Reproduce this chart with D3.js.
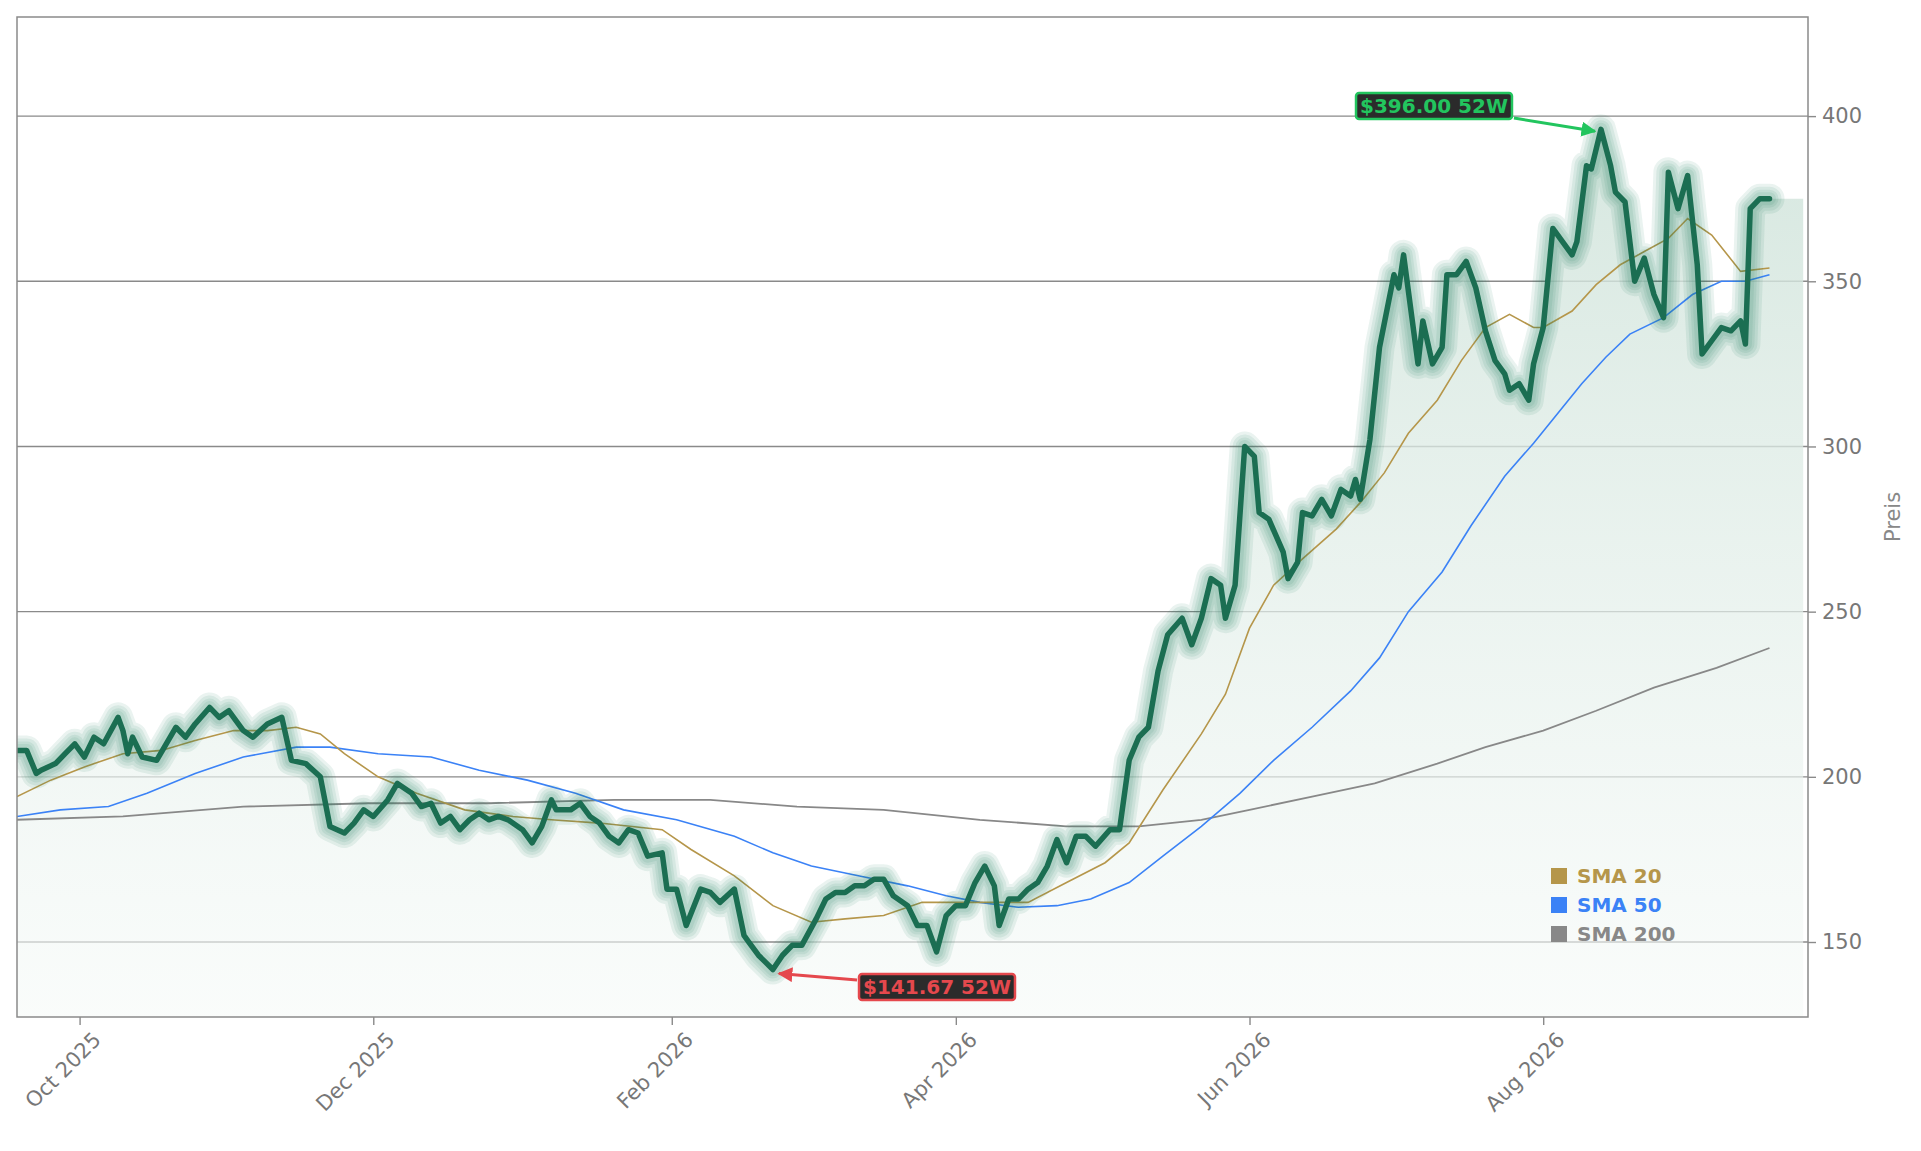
<!DOCTYPE html>
<html><head><meta charset="utf-8">
<script src="https://cdn.jsdelivr.net/npm/d3@7"></script>
<style>body{margin:0;background:#fff;font-family:"DejaVu Sans",sans-serif;}</style>
</head><body><svg id="c" width="1921" height="1151"></svg>
<script>
const startDate = "2025-09-18";
const closeDays = [0,2,4,5,8,10,12,14,16,18,21,22,23,24,26,29,31,33,35,37,40,42,44,47,49,52,55,57,60,63,65,68,70,72,74,77,79,82,84,86,88,90,92,94,96,98,100,102,105,107,109,111,112,115,117,119,121,123,125,127,129,131,134,135,137,139,142,144,146,149,151,152,154,157,159,161,163,166,168,170,172,174,176,178,180,182,185,187,189,191,193,195,197,199,201,203,204,206,208,210,212,214,216,218,220,222,224,227,229,231,233,235,237,239,242,244,246,248,250,251,253,255,257,258,260,263,264,266,267,269,271,273,275,277,278,279,281,283,286,287,288,291,292,294,296,297,299,301,303,305,307,309,310,312,314,315,317,319,321,323,324,326,327,329,331,332,334,336,338,340,342,343,345,347,349,350,352,354,356,358,359,360,362,364];
const closeVals = [208,208,201,202,204,207,210,206,212,210,218,214,207,212,206,205,210,215,212,216,221,218,220,214,212,216,218,205,204,200,185,183,186,190,188,193,198,195,191,192,186,188,184,187,189,187,188,187,184,180,185,193,190,190,192,188,186,182,180,184,183,176,177,166,166,155,166,165,162,166,152,150,146,141.67,146,149,149,157,163,165,165,167,167,169,169,164,161,155,155,147,158,161,161,168,173,167,155,163,163,166,168,173,181,174,182,182,179,184,184,205,212,215,232,243,248,240,248,260,258,248,258,300,297,280,278,268,260,265,280,279,284,279,287,285,290,284,302,330,352,348,358,325,338,325,330,352,352,356,348,335,326,322,317,319,314,325,336,366,362,358,362,385,384,396,385,377,374,350,357,346,339,383,372,382,355,328,332,336,335,338,331,372,375,375];
const sma20Days = [0,7,14,22,30,37,45,52,58,63,68,75,83,93,103,111,121,134,140,149,157,165,172,180,188,195,203,210,218,226,231,238,246,251,256,261,267,274,279,284,289,295,300,305,310,315,317,323,328,333,338,343,347,352,358,364];
const sma20Vals = [194,199,203,207,208,211,214,214,215,213,207,200,195,190,188,187,186,184,178,170,161,156,157,158,162,162,162,162,168,174,180,196,213,225,245,258,266,275,283,292,304,314,326,336,340,336,336,341,349,355,359,363,369,364,353,354];
const sma50Days = [0,9,19,27,37,47,58,65,75,86,96,106,116,126,137,149,157,165,175,185,193,200,208,216,223,231,238,246,254,261,269,277,283,289,296,302,309,315,320,325,330,335,342,348,354,359,364];
const sma50Vals = [188,190,191,195,201,206,209,209,207,206,202,199,195,190,187,182,177,173,170,167,164,162,160.5,161,163,168,176,185,195,205,215,226,236,250,262,276,291,301,310,319,327,334,339,346,350,350,352];
const sma200Days = [0,22,47,73,98,124,144,162,180,200,218,233,246,256,269,282,295,305,317,328,340,353,364];
const sma200Vals = [187,188,191,192,192,193,193,191,190,187,185,185,187,190,194,198,204,209,214,220,227,233,239];
const yTicks = [150,200,250,300,350,400];
const xTicks = ["2025-10-01","2025-12-01","2026-02-01","2026-04-01","2026-06-01","2026-08-01"];
const legendNames = ["SMA 20","SMA 50","SMA 200"];
const legendColors = ["#b5964a","#3b82f6","#888888"];
const hiLabel = "$396.00 52W", loLabel = "$141.67 52W";

const parse = d3.timeParse("%Y-%m-%d");
const t0 = parse(startDate);
const toDate = d => d3.timeDay.offset(t0, d);
const mk = (ds, vs) => ds.map((d,i)=>({date:toDate(d), v:vs[i]}));
const close = mk(closeDays, closeVals);
const s20 = mk(sma20Days, sma20Vals), s50 = mk(sma50Days, sma50Vals), s200 = mk(sma200Days, sma200Vals);

const L=17, R=1808, T=17, B=1017;
const svg = d3.select("#c");
const x = d3.scaleTime().domain([t0, d3.timeDay.offset(t0, 372)]).range([L, R]);
const y = d3.scaleLinear().domain([127.3, 430]).range([B, T]);

const defs = svg.append("defs");
const g = defs.append("linearGradient").attr("id","ag").attr("x1",0).attr("x2",0).attr("y1",0).attr("y2",1);
g.append("stop").attr("offset","0%").attr("stop-color","#cfe3da").attr("stop-opacity",0.85);
g.append("stop").attr("offset","100%").attr("stop-color","#f6faf8").attr("stop-opacity",0.6);
defs.append("clipPath").attr("id","cp").append("rect").attr("x",L).attr("y",T).attr("width",R-L).attr("height",B-T);

const plot = svg.append("g").attr("clip-path","url(#cp)");
// grid
plot.selectAll(".gl").data(yTicks).join("line").attr("x1",L).attr("x2",R).attr("y1",d=>y(d)).attr("y2",d=>y(d)).attr("stroke","#8a8a8a").attr("stroke-width",1.4);

// area (extends with last value a little beyond the last point)
const last = close[close.length-1];
const areaData = close.concat([{date:d3.timeDay.offset(last.date,7), v:last.v}]);
plot.append("path").datum(areaData).attr("fill","url(#ag)")
  .attr("d", d3.area().curve(d3.curveStepAfter).x(d=>x(d.date)).y0(B).y1(d=>y(d.v)).curve(d3.curveLinear));

const line = d3.line().x(d=>x(d.date)).y(d=>y(d.v));
plot.append("path").datum(s200).attr("d",line).attr("fill","none").attr("stroke","#888").attr("stroke-width",1.8);
plot.append("path").datum(s50).attr("d",line).attr("fill","none").attr("stroke","#3b82f6").attr("stroke-width",1.6);
plot.append("path").datum(s20).attr("d",line).attr("fill","none").attr("stroke","#b5964a").attr("stroke-width",1.6);

// glow
[30,24,18,13].forEach(w=>{
  plot.append("path").datum(close).attr("d",line).attr("fill","none").attr("stroke","#1a7a5a")
    .attr("stroke-opacity",0.09).attr("stroke-width",w).attr("stroke-linejoin","round").attr("stroke-linecap","round");
});
plot.append("path").datum(close).attr("d",line).attr("fill","none").attr("stroke","#1b6e52")
  .attr("stroke-width",5.5).attr("stroke-linejoin","round").attr("stroke-linecap","round");

// frame
svg.append("rect").attr("x",L).attr("y",T).attr("width",R-L).attr("height",B-T).attr("fill","none").attr("stroke","#8a8a8a").attr("stroke-width",1.5);

// y axis right
const ya = svg.append("g").attr("transform",`translate(${R},0)`).call(d3.axisRight(y).tickValues(yTicks).tickSize(8).tickPadding(6));
ya.select(".domain").remove();
ya.selectAll("line").attr("stroke","#8a8a8a").attr("stroke-width",1.4);
ya.selectAll("text").attr("fill","#777").style("font-size","21px").style("font-family","DejaVu Sans");
svg.append("text").attr("transform",`translate(${1900},${(T+B)/2}) rotate(-90)`).attr("text-anchor","middle")
  .attr("fill","#888").style("font-size","21px").text("Preis");

// x axis
const xa = svg.append("g").attr("transform",`translate(0,${B})`).call(d3.axisBottom(x).tickValues(xTicks.map(parse)).tickFormat(d3.timeFormat("%b %Y")).tickSize(8));
xa.select(".domain").remove();
xa.selectAll("line").attr("stroke","#8a8a8a").attr("stroke-width",1.4);
xa.selectAll("text").attr("fill","#777").style("font-size","21px").style("font-family","DejaVu Sans")
  .attr("text-anchor","end").attr("transform","translate(4,6) rotate(-45)").attr("dy","0.7em").attr("dx","0");

// annotations
function annot(pt, bx, by, txt, col, fillText){
  const a = svg.append("g");
  const tx = a.append("text").attr("x",bx).attr("y",by).attr("text-anchor","middle").attr("dominant-baseline","central")
    .attr("fill",fillText).style("font-size","20px").style("font-weight","bold").text(txt);
  const bb = tx.node().getBBox();
  a.insert("rect","text").attr("x",bb.x-4).attr("y",bb.y-1).attr("width",bb.width+8).attr("height",bb.height+2)
    .attr("rx",3).attr("fill","#2b2b2b").attr("stroke",col).attr("stroke-width",2.5);
  return bb;
}
const hiPt = close[d3.maxIndex(close,d=>d.v)], loPt = close[d3.minIndex(close,d=>d.v)];
defs.append("marker").attr("id","mg").attr("viewBox","0 0 10 10").attr("refX",9).attr("refY",5).attr("markerWidth",5).attr("markerHeight",5).attr("orient","auto")
  .append("path").attr("d","M0,0L10,5L0,10z").attr("fill","#22c55e");
defs.append("marker").attr("id","mr").attr("viewBox","0 0 10 10").attr("refX",9).attr("refY",5).attr("markerWidth",5).attr("markerHeight",5).attr("orient","auto")
  .append("path").attr("d","M0,0L10,5L0,10z").attr("fill","#e5484d");
const hb = annot(hiPt, 1434, 106, hiLabel, "#22c55e", "#22c55e");
svg.append("line").attr("x1",hb.x+hb.width+6).attr("y1",118).attr("x2",x(hiPt.date)-6).attr("y2",y(hiPt.v)+2)
  .attr("stroke","#22c55e").attr("stroke-width",3).attr("marker-end","url(#mg)");
const lb = annot(loPt, 937, 987, loLabel, "#e5484d", "#e5484d");
svg.append("line").attr("x1",lb.x-6).attr("y1",980).attr("x2",x(loPt.date)+6).attr("y2",y(loPt.v)+4)
  .attr("stroke","#e5484d").attr("stroke-width",3).attr("marker-end","url(#mr)");

// legend
const lg = svg.append("g").attr("transform","translate(1551,876)");
legendNames.forEach((n,i)=>{
  lg.append("rect").attr("x",0).attr("y",i*29-8).attr("width",16).attr("height",16).attr("fill",legendColors[i]);
  lg.append("text").attr("x",26).attr("y",i*29).attr("dominant-baseline","central").attr("fill",legendColors[i])
    .style("font-size","20px").style("font-weight","bold").text(n);
});
</script></body></html>
